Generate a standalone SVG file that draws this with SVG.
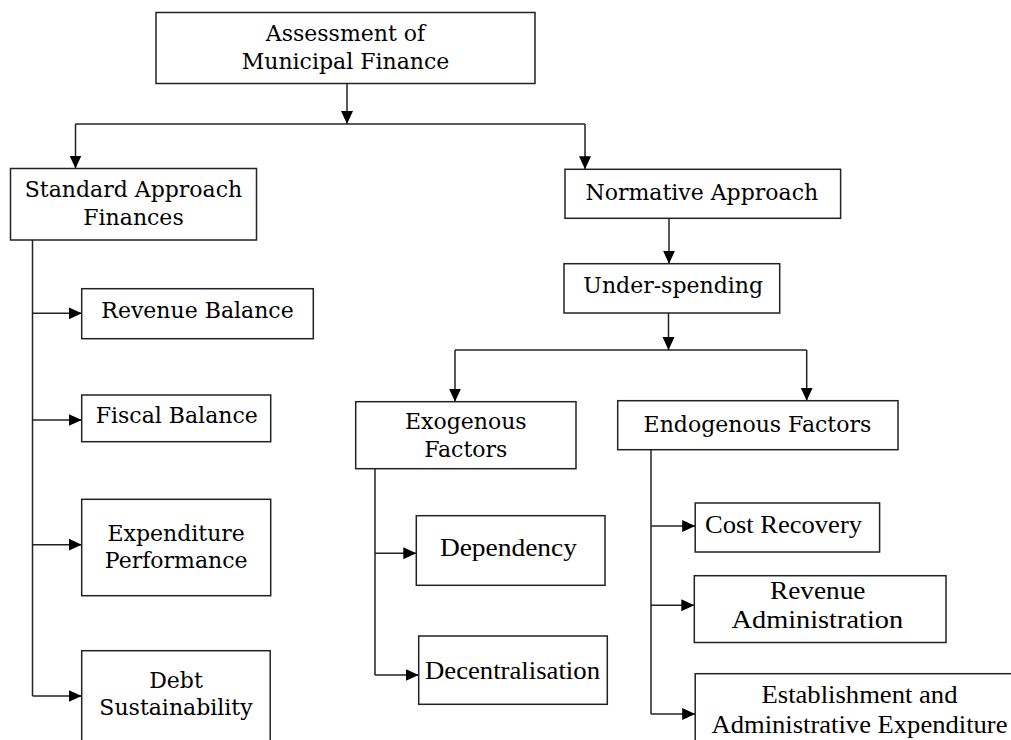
<svg xmlns="http://www.w3.org/2000/svg" width="1011" height="740" viewBox="0 0 1011 740">
<style>
.box{fill:#fff;stroke:#222;stroke-width:1.5}
.bk{font-family:"DejaVu Serif","Liberation Serif",serif;font-size:22px;fill:#000;text-anchor:middle}
.tm{font-family:"Liberation Serif","Times New Roman",serif;font-size:26px;fill:#000;text-anchor:middle}
.ln{fill:none;stroke:#222;stroke-width:1.5}
</style>
<defs>
<marker id="ah" markerUnits="userSpaceOnUse" markerWidth="14" markerHeight="14" viewBox="0 0 14 12" refX="13" refY="6" orient="auto">
<path d="M0,0 L13,6 L0,12 Z" fill="#000"/>
</marker>
</defs>
<rect width="1011" height="740" fill="#fff"/>
<g id="connectors">
<path class="ln" d="M347,83.5 V124" marker-end="url(#ah)"/>
<path class="ln" d="M75.5,124 H585"/>
<path class="ln" d="M75.5,124 V168.5" marker-end="url(#ah)"/>
<path class="ln" d="M585,124 V169.3" marker-end="url(#ah)"/>
<path class="ln" d="M32.5,240 V696"/>
<path class="ln" d="M32.5,313.3 H81.7" marker-end="url(#ah)"/>
<path class="ln" d="M32.5,420 H81.7" marker-end="url(#ah)"/>
<path class="ln" d="M32.5,544.7 H81.7" marker-end="url(#ah)"/>
<path class="ln" d="M32.5,696 H81.7" marker-end="url(#ah)"/>
<path class="ln" d="M669,218.3 V263.7" marker-end="url(#ah)"/>
<path class="ln" d="M668.5,313 V350" marker-end="url(#ah)"/>
<path class="ln" d="M455,350 H806.7"/>
<path class="ln" d="M455,350 V401.7" marker-end="url(#ah)"/>
<path class="ln" d="M806.7,350 V400.7" marker-end="url(#ah)"/>
<path class="ln" d="M375,468.7 V675"/>
<path class="ln" d="M375,553.3 H416.3" marker-end="url(#ah)"/>
<path class="ln" d="M375,675 H418.7" marker-end="url(#ah)"/>
<path class="ln" d="M651,449.7 V714"/>
<path class="ln" d="M651,526 H695.2" marker-end="url(#ah)"/>
<path class="ln" d="M651,605.3 H694.3" marker-end="url(#ah)"/>
<path class="ln" d="M651,714 H695.2" marker-end="url(#ah)"/>
</g>
<g id="assessment">
<rect class="box" x="156" y="12.5" width="379" height="71"/>
<text class="bk" x="345.5" y="40.7">Assessment of</text>
<text class="bk" x="345.5" y="69.3">Municipal Finance</text>
</g>
<g id="standard">
<rect class="box" x="10.5" y="168.5" width="246" height="71.5"/>
<text class="bk" x="133.5" y="196.7">Standard Approach</text>
<text class="bk" x="133.5" y="225">Finances</text>
</g>
<g id="revenue-balance">
<rect class="box" x="81.7" y="288.7" width="231.6" height="50"/>
<text class="bk" x="197.5" y="318.3">Revenue Balance</text>
</g>
<g id="fiscal-balance">
<rect class="box" x="81.7" y="395" width="189" height="46.7"/>
<text class="bk" x="176.8" y="422.7">Fiscal Balance</text>
</g>
<g id="expenditure-performance">
<rect class="box" x="81.7" y="499.3" width="189" height="96.4"/>
<text class="bk" x="176.2" y="541">Expenditure</text>
<text class="bk" x="176.2" y="568.3">Performance</text>
</g>
<g id="debt-sustainability">
<rect class="box" x="81.7" y="650.7" width="188.5" height="100"/>
<text class="bk" x="176" y="687.7">Debt</text>
<text class="bk" x="176" y="715">Sustainability</text>
</g>
<g id="normative">
<rect class="box" x="565" y="169.3" width="275.6" height="49"/>
<text class="bk" x="701.8" y="200">Normative Approach</text>
</g>
<g id="under-spending">
<rect class="box" x="564" y="263.7" width="215.7" height="49.3"/>
<text class="bk" x="673.2" y="292.7">Under-spending</text>
</g>
<g id="exogenous">
<rect class="box" x="355.7" y="401.7" width="220.3" height="67"/>
<text class="bk" x="465.8" y="429">Exogenous</text>
<text class="bk" x="465.8" y="457.3">Factors</text>
</g>
<g id="endogenous">
<rect class="box" x="617.7" y="400.7" width="280.3" height="49"/>
<text class="bk" x="757.4" y="431.7">Endogenous Factors</text>
</g>
<g id="dependency">
<rect class="box" x="416.3" y="515.7" width="188.7" height="69.6"/>
<text class="tm" x="508.4" y="556" textLength="137" lengthAdjust="spacingAndGlyphs">Dependency</text>
</g>
<g id="decentralisation">
<rect class="box" x="418.7" y="636" width="188.6" height="68.3"/>
<text class="tm" x="512.5" y="679" textLength="175" lengthAdjust="spacingAndGlyphs">Decentralisation</text>
</g>
<g id="cost-recovery">
<rect class="box" x="695.2" y="503" width="184.4" height="49"/>
<text class="tm" x="783.5" y="533.3" textLength="157" lengthAdjust="spacingAndGlyphs">Cost Recovery</text>
</g>
<g id="revenue-administration">
<rect class="box" x="694.3" y="575.7" width="251.7" height="66.8"/>
<text class="tm" x="817.7" y="599.3" textLength="95.5" lengthAdjust="spacingAndGlyphs">Revenue</text>
<text class="tm" x="817.3" y="628.3" textLength="171.6" lengthAdjust="spacingAndGlyphs">Administration</text>
</g>
<g id="establishment">
<rect class="box" x="695.2" y="673.7" width="330" height="100"/>
<text class="tm" x="859.5" y="703.3" textLength="196" lengthAdjust="spacingAndGlyphs">Establishment and</text>
<text class="tm" x="859.5" y="733.3" textLength="296" lengthAdjust="spacingAndGlyphs">Administrative Expenditure</text>
</g>
</svg>
